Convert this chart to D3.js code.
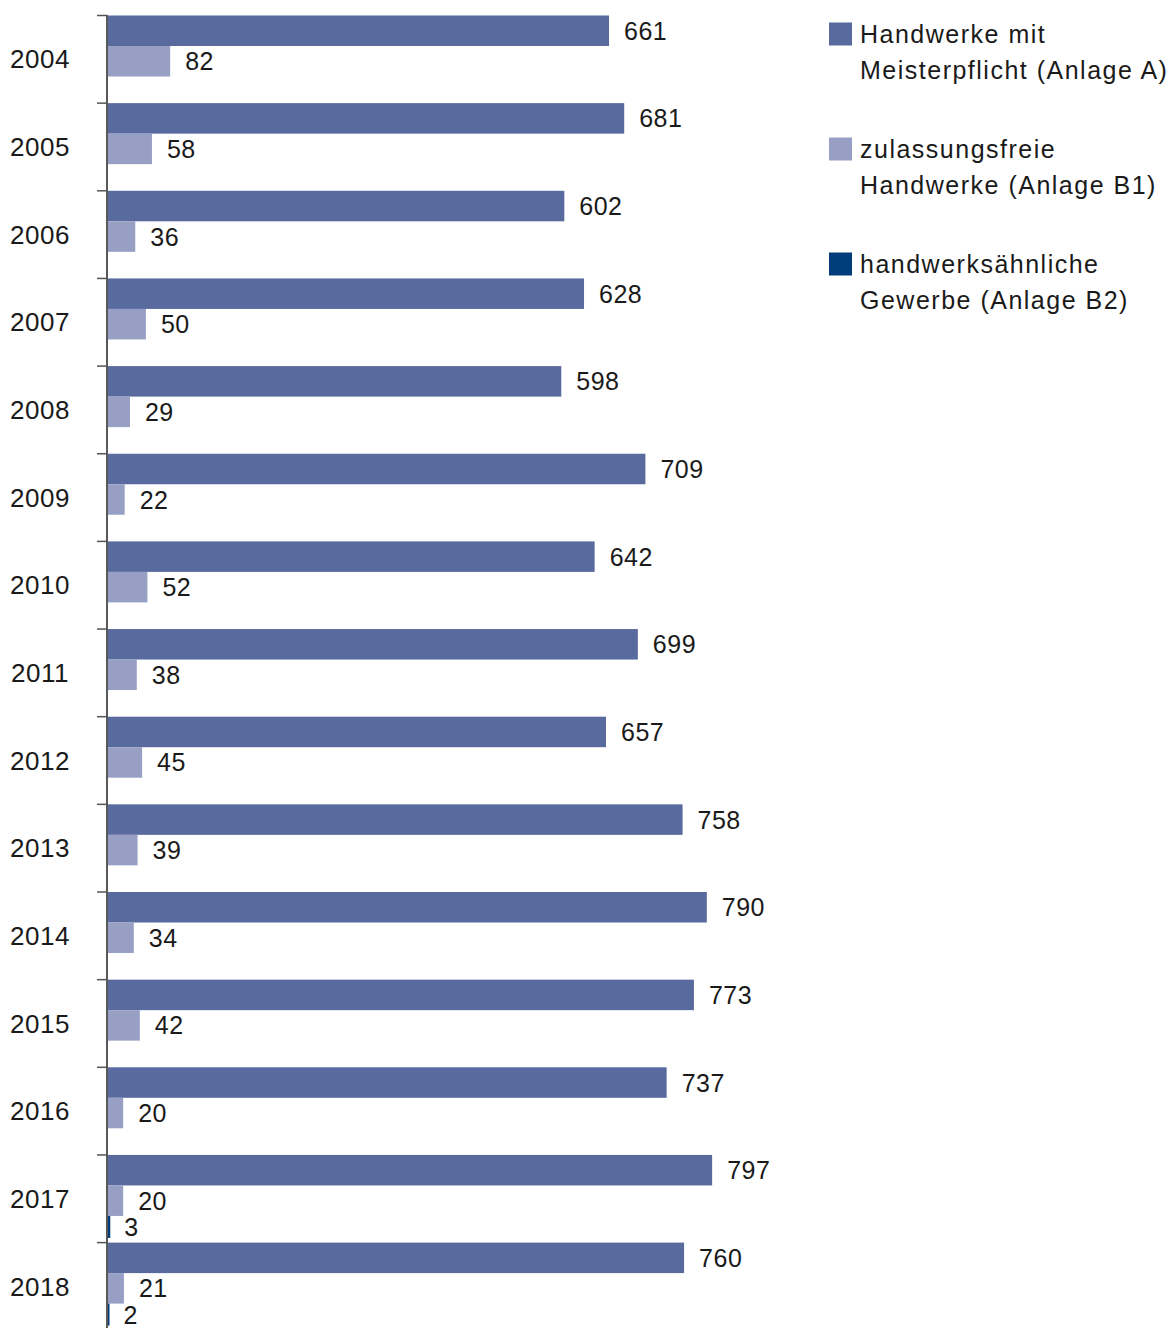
<!DOCTYPE html>
<html>
<head>
<meta charset="utf-8">
<script src="https://cdn.jsdelivr.net/npm/d3@7"></script>
<style>
  body { margin: 0; background: #fff; }
  text { font-family: "Liberation Sans", Arial, sans-serif; fill: #1a1a1a; }
</style>
</head>
<body>
<svg width="1172" height="1328"></svg>
<script>
var years = ["2004","2005","2006","2007","2008","2009","2010","2011","2012","2013","2014","2015","2016","2017","2018"];
var anlageA = [661,681,602,628,598,709,642,699,657,758,790,773,737,797,760];
var anlageB1 = [82,58,36,50,29,22,52,38,45,39,34,42,20,20,21];
var anlageB2 = [null,null,null,null,null,null,null,null,null,null,null,null,null,3,2];
var seriesKeys = ["a","b1","b2"];
var seriesNames = [
  ["Handwerke mit", "Meisterpflicht (Anlage A)"],
  ["zulassungsfreie", "Handwerke (Anlage B1)"],
  ["handwerksähnliche", "Gewerbe (Anlage B2)"]
];
var colors = ["#596a9e", "#97a0c4", "#023d7b"];

var svg = d3.select("svg");

var data = years.map(function(y, i) {
  return {year: y, a: anlageA[i], b1: anlageB1[i], b2: anlageB2[i]};
});

var x = d3.scaleLinear().domain([0, 800]).range([108, 108 + 800 * 0.758]);
var y = d3.scaleBand().domain(years).range([15.5, 15.5 + 15 * 87.65]);
var yInner = d3.scaleBand().domain(seriesKeys).range([0, 91.5]);
var color = d3.scaleOrdinal().domain(seriesKeys).range(colors);

// axis with ticks between the groups
svg.append("line")
    .attr("x1", 107).attr("x2", 107)
    .attr("y1", 15).attr("y2", 1328)
    .attr("stroke", "#222").attr("stroke-width", 1.5);

svg.append("g").selectAll("line")
    .data(years)
    .enter().append("line")
    .attr("x1", 97).attr("x2", 107)
    .attr("y1", function(d) { return y(d); })
    .attr("y2", function(d) { return y(d); })
    .attr("stroke", "#555").attr("stroke-width", 1.5);

svg.append("g").selectAll("text")
    .data(years)
    .enter().append("text")
    .attr("x", 40)
    .attr("y", function(d) { return y(d) + y.bandwidth() / 2; })
    .attr("dy", "0.35em")
    .attr("text-anchor", "middle")
    .style("font-size", "26px")
    .style("letter-spacing", "0.5px")
    .text(function(d) { return d; });

var groups = svg.append("g").selectAll("g")
    .data(data)
    .enter().append("g")
    .attr("transform", function(d) { return "translate(0," + y(d.year) + ")"; });

function barH(k) { return k === "b2" ? 22 : yInner.bandwidth(); }

var cells = groups.selectAll("g")
    .data(function(d) {
      return seriesKeys.filter(function(k) { return d[k] != null; })
        .map(function(k) { return {key: k, value: d[k]}; });
    })
    .enter().append("g");

cells.append("rect")
    .attr("x", x(0))
    .attr("y", function(d) { return yInner(d.key); })
    .attr("width", function(d) { return x(d.value) - x(0); })
    .attr("height", function(d) { return barH(d.key); })
    .attr("fill", function(d) { return color(d.key); });

cells.append("text")
    .attr("x", function(d) { return x(d.value) + (d.key === "b2" ? 14 : 15); })
    .attr("y", function(d) { return yInner(d.key) + barH(d.key) / 2; })
    .attr("dy", "0.36em")
    .style("font-size", "25px")
    .style("letter-spacing", "0.5px")
    .text(function(d) { return d.value; });

// legend
var legend = svg.append("g").selectAll("g")
    .data(seriesKeys)
    .enter().append("g")
    .attr("transform", function(d, i) { return "translate(829," + (22.5 + i * 115) + ")"; });

legend.append("rect")
    .attr("width", 23).attr("height", 23)
    .attr("fill", function(d) { return color(d); });

legend.each(function(d, i) {
  var t = d3.select(this).append("text")
      .attr("x", 31).attr("y", 20.5)
      .style("font-size", "25px")
      .style("letter-spacing", "1.5px");
  seriesNames[i].forEach(function(line, j) {
    t.append("tspan").attr("x", 31).attr("dy", j === 0 ? 0 : 36).text(line);
  });
});
</script>
</body>
</html>
